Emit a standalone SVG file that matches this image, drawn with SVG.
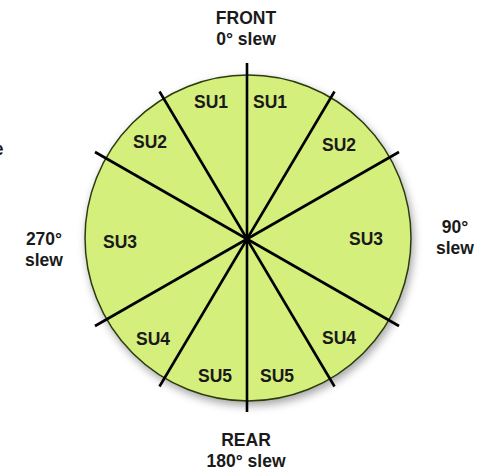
<svg xmlns="http://www.w3.org/2000/svg" width="492" height="472" viewBox="0 0 492 472">
<style>
text{font-family:"Liberation Sans",Arial,Helvetica,sans-serif;font-weight:bold;font-size:17.5px;fill:#1a1a1a;text-anchor:middle}
.div{stroke:#000;stroke-width:2.6;stroke-linecap:butt}
</style>
<defs>
<filter id="sh" x="-10%" y="-10%" width="125%" height="125%">
<feDropShadow dx="2" dy="4" stdDeviation="4" flood-color="#000" flood-opacity="0.35"/>
</filter>
</defs>
<rect width="492" height="472" fill="#fff"/>
<g id="disc">
<circle cx="248" cy="238" r="163" fill="#d5ef7c" stroke="#2a3a10" stroke-width="1.5" filter="url(#sh)"/>
</g>
<g id="connectors">
<line class="div" x1="247" y1="63" x2="247" y2="412"/>
<line class="div" x1="159.5" y1="91.5" x2="334.5" y2="386.5"/>
<line class="div" x1="334.5" y1="91.5" x2="159.5" y2="386.5"/>
<line class="div" x1="95" y1="152" x2="399" y2="326"/>
<line class="div" x1="399" y1="152" x2="95" y2="326"/>
</g>
<g id="front"><text x="246" y="24">FRONT</text><text x="246" y="45">0° slew</text></g>
<g id="rear"><text x="246" y="446">REAR</text><text x="246" y="467">180° slew</text></g>
<g id="left"><text x="44" y="245">270°</text><text x="44" y="266">slew</text></g>
<g id="right"><text x="455" y="233">90°</text><text x="455" y="254">slew</text></g>
<g id="su1l"><text x="211" y="108">SU1</text></g>
<g id="su1r"><text x="270" y="108">SU1</text></g>
<g id="su2l"><text x="150" y="148">SU2</text></g>
<g id="su2r"><text x="339" y="151">SU2</text></g>
<g id="su3l"><text x="120" y="248">SU3</text></g>
<g id="su3r"><text x="366" y="245">SU3</text></g>
<g id="su4l"><text x="153" y="345">SU4</text></g>
<g id="su4r"><text x="339" y="344">SU4</text></g>
<g id="su5l"><text x="215" y="382">SU5</text></g>
<g id="su5r"><text x="277" y="382">SU5</text></g>
<text x="3.5" y="155" style="text-anchor:end">e</text>
</svg>
